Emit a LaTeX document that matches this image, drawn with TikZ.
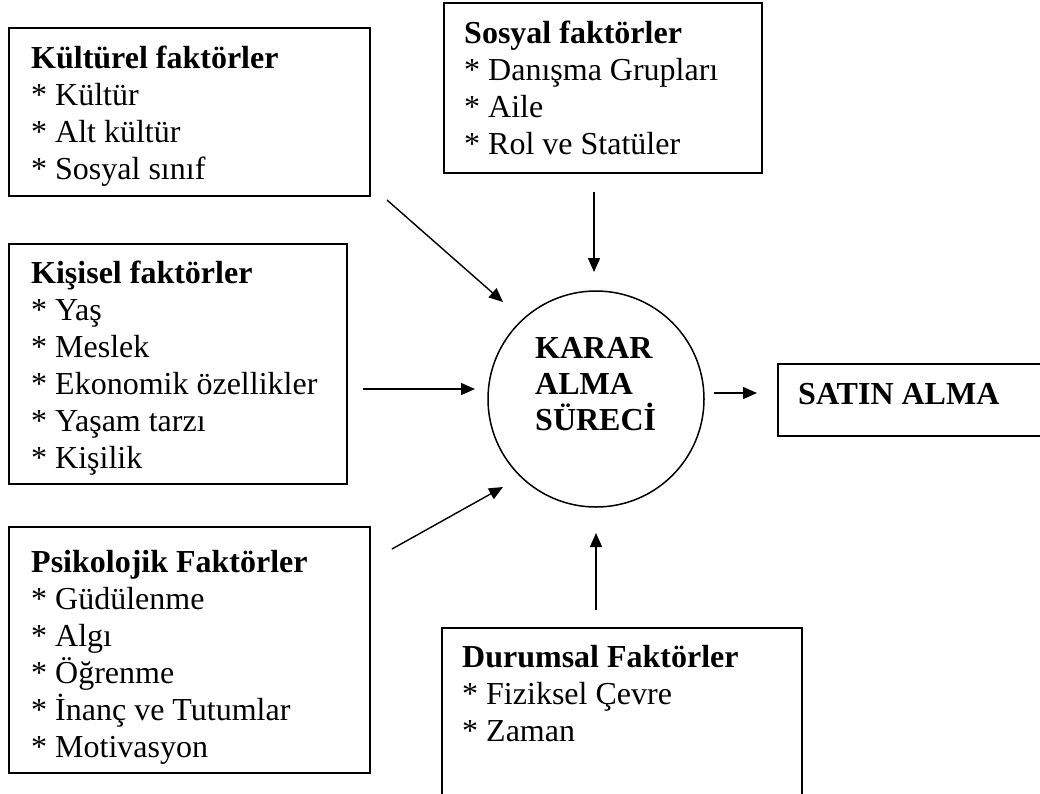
\documentclass[tikz,border=0pt]{standalone}
\usepackage{fontspec}
\setmainfont{Liberation Serif}
\usetikzlibrary{arrows.meta,shapes.geometric}
\newcommand\mytopstrut{\rule{0pt}{24pt}}
\begin{document}
\begin{tikzpicture}[x=1pt,y=-1pt,
 box/.style={draw, line width=1.8pt, anchor=north west, inner sep=0pt},
 txt/.style={anchor=north west, align=left, inner sep=0pt, font=\fontsize{32}{37}\selectfont},
 btxt/.style={txt, font=\fontsize{32}{36}\selectfont\bfseries},
 arr/.style={line width=1.4pt, -{Triangle[length=14pt,width=12pt]}}]
\useasboundingbox (0,0) rectangle (1040,793);
\clip (0,0) rectangle (1040,793);
\fill[white] (0,0) rectangle (1040,793);

% boxes
\node[box, minimum width=361pt, minimum height=168pt] (kult) at (8,27) {};
\node[box, minimum width=318pt, minimum height=170pt] (sosy) at (443,2) {};
\node[box, minimum width=338pt, minimum height=240pt] (kisi) at (8,243) {};
\node[box, minimum width=361pt, minimum height=246pt] (psik) at (8,526) {};
\node[box, minimum width=360pt, minimum height=200pt] (duru) at (441,627) {};
\node[box, minimum width=290pt, minimum height=72pt] (satin) at (777,363) {};
\node[draw, circle, line width=1.5pt, minimum size=216pt, inner sep=0pt] (karar) at (596,399) {};

% texts
\node[txt] (kultT) at (31,44) {\textbf{\mytopstrut Kültürel faktörler}\\ {*} Kültür\\ {*} Alt kültür\\ {*} Sosyal sınıf};
\node[txt] (sosyT) at (464,19) {\textbf{\mytopstrut Sosyal faktörler}\\ {*} Danışma Grupları\\ {*} Aile\\ {*} Rol ve Statüler};
\node[txt] (kisiT) at (31,259) {\textbf{\mytopstrut Kişisel faktörler}\\ {*} Yaş\\ {*} Meslek\\ {*} Ekonomik özellikler\\ {*} Yaşam tarzı\\ {*} Kişilik};
\node[txt] (psikT) at (31,548) {\textbf{\mytopstrut Psikolojik Faktörler}\\ {*} Güdülenme\\ {*} Algı\\ {*} Öğrenme\\ {*} İnanç ve Tutumlar\\ {*} Motivasyon};
\node[txt] (duruT) at (462,643) {\textbf{\mytopstrut Durumsal Faktörler}\\ {*} Fiziksel Çevre\\ {*} Zaman};
\node[btxt] (kararT) at (535,334) {\mytopstrut KARAR\\ALMA\\SÜRECİ};
\node[btxt, anchor=base west] (satinT) at (798,404) {SATIN ALMA};

% connectors
\coordinate (a1s) at (387,200); \coordinate (a1e) at (503,302);
\coordinate (a2s) at (594,192); \coordinate (a2e) at (594,272);
\coordinate (a3s) at (363,389); \coordinate (a3e) at (475,389);
\coordinate (a4s) at (392,549); \coordinate (a4e) at (503,487);
\coordinate (a5s) at (596,610); \coordinate (a5e) at (596,533);
\coordinate (a6s) at (714,393); \coordinate (a6e) at (757,393);
\draw[arr] (a1s) -- (a1e);
\draw[arr] (a2s) -- (a2e);
\draw[arr] (a3s) -- (a3e);
\draw[arr] (a4s) -- (a4e);
\draw[arr] (a5s) -- (a5e);
\draw[arr] (a6s) -- (a6e);
\end{tikzpicture}
\end{document}
